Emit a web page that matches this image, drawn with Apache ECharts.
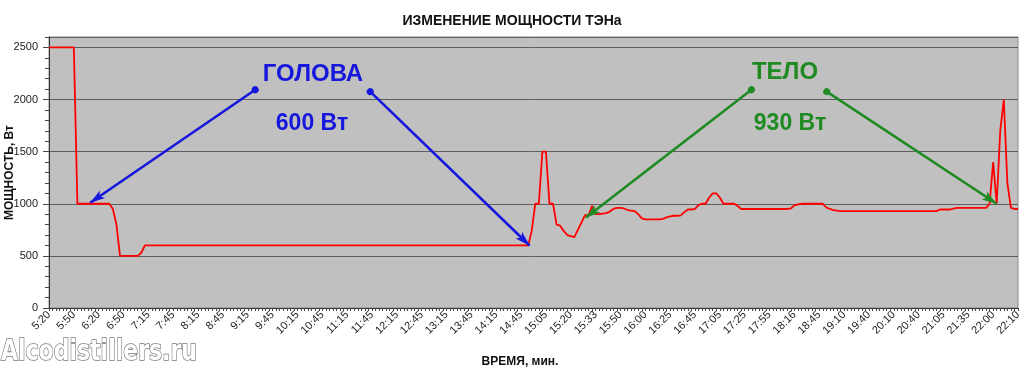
<!DOCTYPE html>
<html>
<head>
<meta charset="utf-8">
<script src="https://cdn.jsdelivr.net/npm/echarts@6/dist/echarts.min.js"></script>
<style>
  html, body { margin: 0; padding: 0; background: #fff; }
  #chart { width: 1024px; height: 370px; }
</style>
</head>
<body>
<div id="chart"></div>
<script>
// ---- DATA ----
const chartTitle = 'ИЗМЕНЕНИЕ МОЩНОСТИ ТЭНа';
const yAxisTitle = 'МОЩНОСТЬ, Вт';
const xAxisTitle = 'ВРЕМЯ, мин.';

// Tick labels shown on the time axis (every 7th reading)
const tickLabels = ['5:20','5:50','6:20','6:50','7:15','7:45','8:15','8:45','9:15','9:45',
  '10:15','10:45','11:15','11:45','12:15','12:45','13:15','13:45','14:15','14:45',
  '15:05','15:20','15:33','15:50','16:00','16:25','16:45','17:05','17:25','17:55',
  '18:16','18:45','19:10','19:40','20:10','20:40','21:05','21:35','22:00','22:10'];
const readingsPerLabel = 7;

// Power readings, W (one per reading)
const power = [
  2500,2500,2500,2500,2500,2500,2500,2500,
  1000,1000,1000,1000,1000,1000,1000,1000,1000,1000,
  950,800,500,
  500,500,500,500,500,
  530,600,
  600,600,600,600,600,600,600,600,600,600,600,600,600,600,600,600,600,600,600,600,
  600,600,600,600,600,600,600,600,600,600,600,600,600,600,600,600,600,600,600,600,
  600,600,600,600,600,600,600,600,600,600,600,600,600,600,600,600,600,600,600,600,
  600,600,600,600,600,600,600,600,600,600,600,600,600,600,600,600,600,600,600,600,
  600,600,600,600,600,600,600,600,600,600,600,600,600,600,600,600,600,600,600,600,
  600,600,600,600,600,600,600,600,
  740,1000,1000,1500,1500,1000,1000,800,790,740,700,690,680,750,820,890,890,980,900,900,
  905,910,925,950,960,960,955,940,935,930,900,860,
  850,850,850,850,850,
  855,870,880,885,885,888,920,945,945,950,990,1000,1000,1060,1100,1100,1060,1000,1000,1000,1000,980,
  950,950,950,950,950,950,950,950,950,950,950,950,950,950,
  955,985,995,1000,1000,1000,1000,1000,1000,1000,965,950,940,935,
  930,930,930,930,930,930,930,930,930,930,930,930,930,930,
  930,930,930,930,930,930,930,930,930,930,930,930,930,930,
  945,945,945,945,955,
  960,960,960,960,960,960,960,960,960,
  1000,1400,1000,1700,2000,1200,960,950,950
];

// Annotations: [readingIndex, W] start dot -> arrow tip
const headArrows = [ [[58.1, 2094], [11.6, 1010]], [[90.5, 2076], [135.4, 600]] ];
const bodyArrows = [ [[197.9, 2094], [151.2, 865]], [[219.1, 2076], [267.0, 1000]] ];
const headText = ['ГОЛОВА', '600 Вт'];
const bodyText = ['ТЕЛО', '930 Вт'];
const watermark = 'Alcodistillers.ru';

// ---- BUILD ----
const categories = [];
tickLabels.forEach((lab, k) => {
  categories.push(lab);
  if (k < tickLabels.length - 1) {
    for (let j = 1; j < readingsPerLabel; j++) categories.push(lab + '#' + j);
  }
});

const BLUE = '#1616dc';
const GREEN = '#1f8a22';
const FONT = '"Liberation Sans", Arial, sans-serif';

const chart = echarts.init(document.getElementById('chart'), null, { renderer: 'canvas' });

function arrowSeries(arrows, color) {
  return {
    type: 'line', xAxisIndex: 1, yAxisIndex: 0, data: [], silent: true,
    markLine: {
      silent: true, animation: false,
      symbol: ['circle', 'arrow'], symbolSize: [7, 15],
      label: { show: false },
      lineStyle: { color: color, width: 2.6, type: 'solid' },
      emphasis: { disabled: true },
      data: arrows.map(a => [{ coord: a[0] }, { coord: a[1] }])
    }
  };
}

const option = {
  animation: false,
  backgroundColor: '#ffffff',
  title: {
    text: chartTitle, left: 'center', top: 9,
    textStyle: { fontSize: 14, fontWeight: 'bold', color: '#111', fontFamily: FONT }
  },
  grid: {
    left: 49, right: 6, top: 37, bottom: 62,
    containLabel: false, outerBoundsMode: 'none',
    show: true, backgroundColor: '#c0c0c0', borderColor: '#8a8a8a', borderWidth: 1
  },
  xAxis: [{
    type: 'category', data: categories, boundaryGap: false,
    name: xAxisTitle, nameLocation: 'middle', nameGap: 48, nameMoveOverlap: false,
    nameTextStyle: { fontSize: 12, fontWeight: 'bold', color: '#111', fontFamily: FONT, padding: [0, 27, 0, 0] },
    axisLine: { lineStyle: { color: '#333', width: 1 } },
    axisTick: { interval: 0, length: 3, lineStyle: { color: '#444' } },
    axisLabel: { interval: readingsPerLabel - 1, rotate: 45, fontSize: 11, color: '#222', margin: 5, fontFamily: FONT },
    splitLine: { show: false }
  }, {
    type: 'value', min: 0, max: categories.length - 1, show: false
  }],
  yAxis: [{
    type: 'value', min: 0, max: 2600, interval: 500,
    name: yAxisTitle, nameLocation: 'middle', nameGap: 33, nameMoveOverlap: false,
    nameTextStyle: { fontSize: 12, fontWeight: 'bold', color: '#111', fontFamily: FONT },
    axisLine: { show: true, lineStyle: { color: '#333', width: 1 } },
    axisTick: { show: true, length: 6, lineStyle: { color: '#444' } },
    axisLabel: { fontSize: 11, color: '#222', margin: 11, showMaxLabel: false, fontFamily: FONT,
      formatter: v => String(v) },
    splitLine: { show: true, lineStyle: { color: '#5e5e5e', width: 1 } }
  }, {
    type: 'value', min: 0, max: 2600, interval: 100, position: 'left',
    axisLine: { show: false },
    axisTick: { show: true, length: 4, lineStyle: { color: '#444' } },
    axisLabel: { show: false },
    splitLine: { show: false }
  }],
  series: [{
    type: 'line', data: power, xAxisIndex: 0, yAxisIndex: 0,
    showSymbol: false, symbol: 'none', smooth: false,
    lineStyle: { color: '#ff0000', width: 1.8 },
    z: 3
  },
  arrowSeries(headArrows, BLUE),
  arrowSeries(bodyArrows, GREEN)
  ],
  graphic: [
    { type: 'text', x: 313, y: 74, z: 10, style: { text: headText[0], fill: BLUE, font: 'bold 24px ' + FONT, textAlign: 'center', textVerticalAlign: 'middle' } },
    { type: 'text', x: 312, y: 124, z: 10, style: { text: headText[1], fill: BLUE, font: 'bold 23px ' + FONT, textAlign: 'center', textVerticalAlign: 'middle' } },
    { type: 'text', x: 785, y: 72, z: 10, style: { text: bodyText[0], fill: GREEN, font: 'bold 24px ' + FONT, textAlign: 'center', textVerticalAlign: 'middle' } },
    { type: 'text', x: 790, y: 124, z: 10, style: { text: bodyText[1], fill: GREEN, font: 'bold 23px ' + FONT, textAlign: 'center', textVerticalAlign: 'middle' } },
    { type: 'text', x: 1, y: 367, scaleY: 1.28, z: 20, style: { text: watermark, fill: '#ffffff', stroke: '#7a7a7a', lineWidth: 1.2, font: 'bold 22px "DejaVu Sans"', textAlign: 'left', textVerticalAlign: 'bottom' } }
  ]
};
chart.setOption(option);
</script>
</body>
</html>
